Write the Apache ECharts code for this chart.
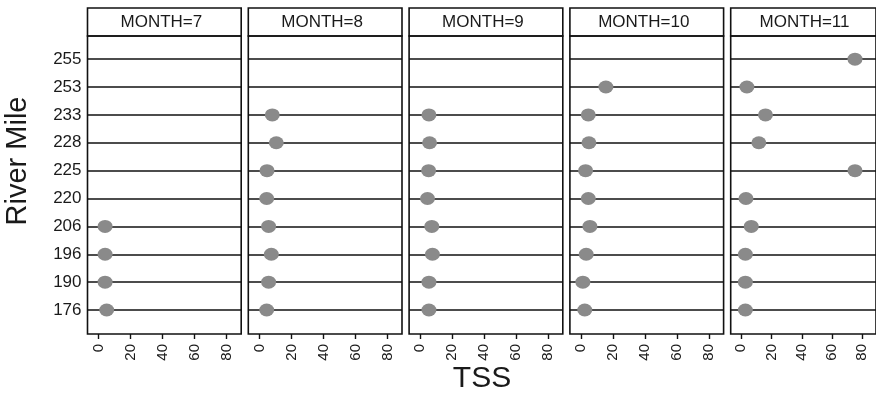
<!DOCTYPE html>
<html><head><meta charset="utf-8">
<script src="https://cdn.jsdelivr.net/npm/echarts@6/dist/echarts.min.js"></script>
<style>html,body{margin:0;padding:0;background:#fff}#c{width:876px;height:400px}</style>
</head><body><div id="c"></div>
<script>
// ---- data ----
const months = [7, 8, 9, 10, 11];
const riverMiles = ['176','190','196','206','220','225','228','233','253','255'];
// TSS per month, in riverMiles order; null = no sample
const tss7  = [5, 4, 4, 4, null, null, null, null, null, null];
const tss8  = [4.5, 5.7, 7.4, 5.7, 4.5, 4.7, 10.5, 8, null, null];
const tss9  = [5.4, 5.4, 7.6, 7.2, 4.5, 5.2, 5.8, 5.4, null, null];
const tss10 = [2.3, 1.1, 3.2, 5.5, 4.5, 2.8, 4.9, 4.5, 15.5, null];
const tss11 = [2.7, 2.7, 2.7, 6.6, 3.1, 75.2, 11.6, 16, 3.7, 75.2];
const xTicks = [0, 20, 40, 60, 80];
const yName = 'River Mile';
const xName = 'TSS';

// ---- layout ----
const FONT = '"Liberation Sans", Arial, Helvetica, sans-serif';
const panelLeft0 = 87.5, pitch = 160.8, panelW = 153.7;
const stripTop = 8, stripH = 28, plotTop = 36, plotH = 298;
const xMin = -7, xMax = 89.1, yMin = -0.86, yMax = 9.83;
const INK = '#111';

const allTss = [tss7, tss8, tss9, tss10, tss11];
const grid = [], xAxis = [], yAxis = [], series = [], graphic = [];

months.forEach((m, p) => {
  const left = panelLeft0 + p * pitch;
  // data panel
  grid.push({left: left, top: plotTop, width: panelW, height: plotH, show: true,
    borderColor: INK, borderWidth: 1.6, backgroundColor: 'transparent', containLabel: false});
  // strip panel
  grid.push({left: left, top: stripTop, width: panelW, height: stripH, show: true,
    borderColor: INK, borderWidth: 1.6, backgroundColor: 'transparent', containLabel: false});
  const gi = p * 2;
  xAxis.push({type: 'value', gridIndex: gi, position: 'bottom', min: xMin, max: xMax,
    axisLine: {show: false, onZero: false}, splitLine: {show: false},
    axisTick: {show: true, inside: false, customValues: xTicks, length: 5, lineStyle: {color: INK, width: 1.4}},
    axisLabel: {show: true, customValues: xTicks, rotate: 90, margin: 10, fontSize: 15,
      fontFamily: FONT, color: '#1a1a1a', showMinLabel: true, showMaxLabel: true}});
  yAxis.push({type: 'value', gridIndex: gi, min: yMin, max: yMax,
    axisLine: {show: false, onZero: false}, splitLine: {show: false}, axisTick: {show: false},
    axisLabel: {show: p === 0, customValues: riverMiles.map((_, i) => i), margin: 6,
      fontSize: 17, fontFamily: FONT, color: '#1a1a1a',
      formatter: v => riverMiles[Math.round(v)] || ''}});
  xAxis.push({type: 'value', gridIndex: gi + 1, show: false, min: 0, max: 1});
  yAxis.push({type: 'value', gridIndex: gi + 1, show: false, min: 0, max: 1});

  const vals = allTss[p];
  const data = [];
  vals.forEach((v, i) => { if (v !== null) data.push([v, i]); });
  series.push({type: 'scatter', xAxisIndex: gi, yAxisIndex: gi, z: 10,
    symbol: 'circle', symbolSize: [15, 13], data: data,
    itemStyle: {color: '#8a8a8a', opacity: 1},
    markLine: {silent: true, z: 1, symbol: ['none', 'none'], animation: false,
      label: {show: false}, lineStyle: {color: INK, width: 1.6, type: 'solid'},
      emphasis: {disabled: true},
      data: riverMiles.map((_, i) => ({yAxis: i}))}});

  graphic.push({type: 'text', x: left + panelW / 2 - 3, y: stripTop + stripH / 2 + 0.5,
    style: {text: 'MONTH=' + m, align: 'center', verticalAlign: 'middle',
      font: '17px ' + FONT, fill: '#1a1a1a'}});
});

graphic.push({type: 'text', x: 18, y: 161, rotation: Math.PI / 2,
  style: {text: yName, align: 'center', verticalAlign: 'middle', font: '29px ' + FONT, fill: '#1a1a1a'}});
graphic.push({type: 'text', x: 482, y: 379,
  style: {text: xName, align: 'center', verticalAlign: 'middle', font: '30px ' + FONT, fill: '#1a1a1a'}});

const chart = echarts.init(document.getElementById('c'), null, {renderer: 'canvas'});
chart.setOption({animation: false, backgroundColor: '#fff', grid, xAxis, yAxis, series, graphic});
</script></body></html>
